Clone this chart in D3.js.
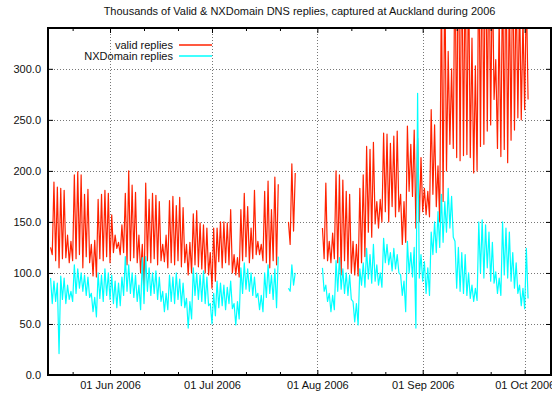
<!DOCTYPE html>
<html>
<head>
<meta charset="utf-8">
<script src="https://cdn.jsdelivr.net/npm/d3@7"></script>
<style>
  body { margin: 0; background: #fff; }
  svg { display: block; font-family: "Liberation Sans", Arial, sans-serif; }
</style>
</head>
<body>
<div id="chart"></div>
<script>
const title = 'Thousands of Valid & NXDomain DNS replies, captured at Auckland during 2006';
const seriesNames = ['valid replies', 'NXDomain replies'];

// one row per week, Mon..Sun, starting Mon 15 May 2006 (last row is Mon 2 Oct)
// daily high (around midday) and low (night) readings, thousands of replies
const validPeak = [
  125, 189, 184, 183, 181, 137, 131,
  196, 199, 196, 177, 182, 128, 132,
  172, 177, 181, 178, 157, 137, 130,
  147, 178, 200, 186, 179, 137, 128,
  188, 172, 178, 176, 170, 128, 137,
  171, 175, 166, 174, 164, 128, 130,
  158, 161, 149, 147, 144, 120, 144,
  144, 150, 150, 149, 162, 118, 115,
  162, 178, 165, 144, 181, 131, 128,
  180, 190, 162, 194, 187, null, null,
  150, 207, 198, null, null, null, null,
  null, null, null, 144, 188, 131, 139,
  200, 196, 191, 180, 177, 131, 128,
  183, 196, 224, 221, 228, 170, 172,
  237, 236, 227, 234, 239, 177, 170,
  244, 226, 240, 232, 213, 183, 180,
  260, 245, 205, 380, 400, 317, 300,
  420, 450, 430, 410, 400, 330, 303,
  420, 440, 460, 430, 400, 309, 350,
  400, 420, 380, 420, 390, 370, 350,
  380
];
const validLow = [
  118, 112, 105, 114, 115, 110, 112,
  114, 118, 105, 116, 110, 97, 96,
  114, 112, 116, 110, 120, 124, 118,
  120, 108, 112, 115, 110, 100, 80,
  112, 110, 114, 108, 112, 111, 105,
  110, 108, 112, 106, 110, 98, 100,
  108, 106, 104, 100, 98, 85, 92,
  111, 105, 110, 108, 100, 98, 96,
  112, 116, 110, 114, 118, 118, 112,
  110, 105, 112, 108, null, null, null,
  128, 141, null, null, null, null, null,
  null, null, null, 114, 112, 110, 114,
  110, 98, 112, 104, 100, 98, 97,
  110, 116, 140, 135, 148, 144, 150,
  160, 150, 165, 155, 160, 128, 130,
  180, 175, 144, 150, 160, 157, 155,
  177, 165, 150, 170, 200, 226, 222,
  213, 210, 215, 216, 213, 198, 200,
  224, 226, 239, 245, 270, 222, 214,
  221, 208, 230, 240, 252, 250, 260,
  270
];
const nxPeak = [
  95, 92, 90, 97, 95, 88, 82,
  108, 104, 100, 98, 96, 80, 76,
  100, 98, 104, 100, 98, 92, 90,
  96, 116, 108, 100, 98, 88, 115,
  116, 105, 100, 102, 96, 82, 80,
  98, 96, 100, 94, 90, 75, 72,
  105, 100, 98, 102, 96, 70, 80,
  92, 90, 88, 86, 92, 70, 72,
  105, 110, 104, 100, 96, 80, 78,
  100, 108, 98, 104, 116, null, null,
  85, 108, 100, null, null, null, null,
  null, null, null, 105, 88, 80, 78,
  112, 115, 104, 100, 98, 72, 70,
  104, 110, 124, 118, 128, 108, 100,
  134, 128, 120, 124, 118, 98, 92,
  131, 120, 125, 276, 118, 111, 105,
  140, 150, 160, 177, 170, 183, 175,
  131, 125, 120, 118, 100, 88, 85,
  150, 152, 147, 140, 130, 101, 95,
  150, 144, 140, 120, 110, 88, 85,
  124
];
const nxLow = [
  70, 72, 21, 74, 70, 74, 72,
  80, 85, 82, 78, 76, 62, 57,
  75, 72, 78, 74, 70, 66, 68,
  78, 82, 80, 76, 72, 64, 70,
  82, 78, 80, 74, 72, 62, 64,
  72, 70, 74, 68, 66, 46, 55,
  78, 74, 72, 70, 68, 50, 58,
  66, 68, 64, 70, 65, 49, 55,
  80, 84, 82, 78, 76, 64, 62,
  76, 80, 74, 66, null, null, null,
  82, 88, null, null, null, null, null,
  null, null, null, 82, 72, 62, 64,
  82, 84, 80, 78, 74, 52, 49,
  88, 86, 94, 90, 92, 88, 86,
  110, 108, 102, 104, 100, 78, 62,
  100, 96, 46, 95, 92, 80, 78,
  118, 120, 125, 130, 140, 144, 135,
  85, 82, 80, 78, 75, 72, 73,
  100, 95, 105, 92, 90, 80, 78,
  98, 95, 92, 85, 80, 68, 65,
  75
];

const yTicks = [0, 50, 100, 150, 200, 250, 300];
const yTickLabels = ['0.0', '50.0', '100.0', '150.0', '200.0', '250.0', '300.0'];
const xTickDates = ['2006-06-01', '2006-07-01', '2006-08-01', '2006-09-01', '2006-10-01'];
const xTickLabels = ['01 Jun 2006', '01 Jul 2006', '01 Aug 2006', '01 Sep 2006', '01 Oct 2006'];
const xMinorDates = ['2006-05-21', '2006-06-11', '2006-06-21', '2006-07-11', '2006-07-21',
  '2006-08-11', '2006-08-21', '2006-09-11', '2006-09-21'];

const width = 552, height = 393;
const margin = { top: 28, right: 1, bottom: 18, left: 48 };
const DAY = 864e5;
const firstDay = Date.UTC(2006, 4, 15);

const x = d3.scaleUtc()
  .domain([new Date(Date.UTC(2006, 4, 13, 18)), new Date(Date.UTC(2006, 9, 8, 18))])
  .range([margin.left, width - margin.right]);
const y = d3.scaleLinear().domain([0, 340]).range([height - margin.bottom, margin.top]);

// high then low for each day
function buildPoints(peaks, lows) {
  const pts = [];
  peaks.forEach((p, i) => {
    const t0 = firstDay + i * DAY;
    pts.push({ t: new Date(t0 - DAY / 2), v: p });
    pts.push({ t: new Date(t0), v: lows[i] });
  });
  return pts;
}

const series = [
  { name: seriesNames[0], color: '#ff2200', data: buildPoints(validPeak, validLow) },
  { name: seriesNames[1], color: '#00ffff', data: buildPoints(nxPeak, nxLow) }
];

const svg = d3.select('#chart').append('svg')
  .attr('width', width)
  .attr('height', height);

const textColor = '#111';

svg.append('text')
  .attr('x', (margin.left + width - margin.right) / 2)
  .attr('y', 15)
  .attr('text-anchor', 'middle')
  .attr('font-size', 11)
  .attr('fill', textColor)
  .text(title);

// grid
const grid = svg.append('g')
  .attr('stroke', '#777')
  .attr('stroke-width', 1)
  .attr('stroke-dasharray', '1,2');
grid.selectAll('.hgrid')
  .data(yTicks.filter(d => d > 0))
  .enter().append('line')
  .attr('x1', margin.left).attr('x2', width - margin.right)
  .attr('y1', d => Math.round(y(d)) + 0.5).attr('y2', d => Math.round(y(d)) + 0.5);
grid.selectAll('.vgrid')
  .data(xTickDates.map(d => new Date(d)))
  .enter().append('line')
  .attr('x1', d => Math.round(x(d)) + 0.5).attr('x2', d => Math.round(x(d)) + 0.5)
  .attr('y1', margin.top).attr('y2', height - margin.bottom);

// data lines
svg.append('clipPath').attr('id', 'plot-clip')
  .append('rect')
  .attr('x', margin.left).attr('y', margin.top)
  .attr('width', width - margin.left - margin.right)
  .attr('height', height - margin.top - margin.bottom);

const line = d3.line()
  .defined(d => d.v != null)
  .x(d => x(d.t))
  .y(d => y(d.v));

svg.append('g').attr('clip-path', 'url(#plot-clip)')
  .selectAll('path')
  .data(series)
  .enter().append('path')
  .attr('fill', 'none')
  .attr('stroke', d => d.color)
  .attr('stroke-width', 1.2)
  .attr('stroke-linejoin', 'round')
  .attr('d', d => line(d.data));

// axes, ticks pointing inward and mirrored
const fmtX = (d, i) => xTickLabels[i];
const bottom = svg.append('g').attr('transform', `translate(0,${height - margin.bottom})`)
  .call(d3.axisBottom(x).tickValues(xTickDates.map(d => new Date(d))).tickFormat(fmtX)
    .tickSize(-5).tickPadding(6));
svg.append('g').attr('transform', `translate(0,${height - margin.bottom})`)
  .call(d3.axisBottom(x).tickValues(xMinorDates.map(d => new Date(d))).tickFormat('').tickSize(-3));
svg.append('g').attr('transform', `translate(0,${margin.top})`)
  .call(d3.axisTop(x).tickValues(xTickDates.map(d => new Date(d))).tickFormat('').tickSize(-5));
svg.append('g').attr('transform', `translate(0,${margin.top})`)
  .call(d3.axisTop(x).tickValues(xMinorDates.map(d => new Date(d))).tickFormat('').tickSize(-3));
const left = svg.append('g').attr('transform', `translate(${margin.left},0)`)
  .call(d3.axisLeft(y).tickValues(yTicks).tickFormat((d, i) => yTickLabels[i])
    .tickSize(-5).tickPadding(7));
svg.append('g').attr('transform', `translate(${width - margin.right},0)`)
  .call(d3.axisRight(y).tickValues(yTicks).tickFormat('').tickSize(-5));

svg.selectAll('.domain').remove();
svg.selectAll('.tick line').attr('stroke', '#000');
svg.selectAll('.tick text')
  .attr('font-size', 11)
  .attr('font-family', '"Liberation Sans", Arial, sans-serif')
  .attr('fill', textColor);

// border
svg.append('rect')
  .attr('x', margin.left).attr('y', margin.top)
  .attr('width', width - margin.left - margin.right)
  .attr('height', height - margin.top - margin.bottom)
  .attr('fill', 'none')
  .attr('stroke', '#000')
  .attr('stroke-width', 2);

// legend
const legend = svg.append('g');
series.forEach((s, i) => {
  const ly = 45 + i * 11;
  legend.append('text')
    .attr('x', 173).attr('y', ly + 3.8)
    .attr('text-anchor', 'end')
    .attr('font-size', 11)
    .attr('fill', textColor)
    .text(s.name);
  legend.append('line')
    .attr('x1', 179).attr('x2', 212)
    .attr('y1', ly).attr('y2', ly)
    .attr('stroke', s.color)
    .attr('stroke-width', 1.5);
});
</script>
</body>
</html>
